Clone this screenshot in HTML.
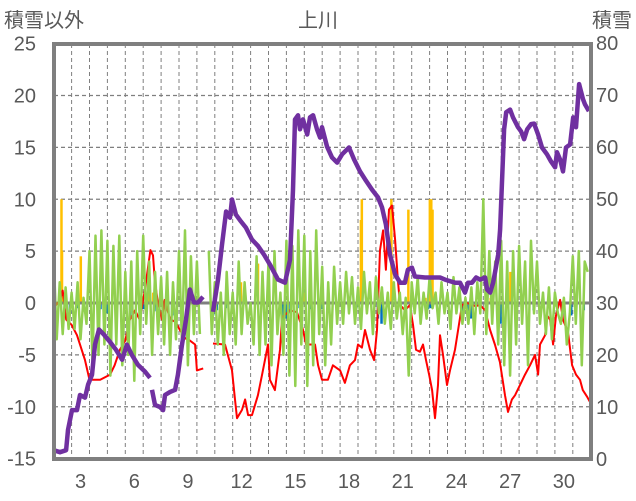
<!DOCTYPE html>
<html><head><meta charset="utf-8"><style>
html,body{margin:0;padding:0;background:#fff;}
svg{display:block;font-family:"Liberation Sans","Noto Sans CJK JP",sans-serif;}
</style></head><body>
<svg id="chart" width="636" height="501" viewBox="0 0 636 501" xmlns="http://www.w3.org/2000/svg">
<text x="318" y="27" font-size="20" fill="#595959" text-anchor="middle">上川</text>
<text x="4" y="27" font-size="20" fill="#595959">積雪以外</text>
<text x="632" y="27" font-size="20" fill="#595959" text-anchor="end">積雪</text>
<g id="grid"></g>
<g id="ticks"></g>
<g id="marks"></g>
<g id="frame"></g>
</svg>
<script>
const leftTicks=[25,20,15,10,5,0,-5,-10,-15];
const rightTicks=[80,70,60,50,40,30,20,10,0];
const dayLabels=[3,6,9,12,15,18,21,24,27,30];
const redDays=[2.0,2.35,2.5,2.7,3.0,3.3,3.75,4.0,4.6,5.15,5.4,5.7,6.0,6.25,6.55,6.8,7.1,7.4,7.55,7.65,7.8,8.05,8.2,8.5,8.8,9.05,9.35,9.6,9.9,10.0,10.35,null,10.9,11.57,11.96,12.13,12.24,12.52,12.69,12.86,13.08,13.41,13.64,13.97,14.08,14.36,14.64,14.76,15.2,15.59,15.93,16.1,16.6,16.77,16.99,17.32,17.6,18.0,18.27,18.55,18.83,19.0,19.22,19.39,19.67,19.9,20.06,20.23,20.4,20.56,20.73,20.9,21.07,21.23,21.35,21.62,21.9,22.07,22.24,22.46,22.63,22.8,22.97,23.14,23.3,23.47,23.58,23.75,23.97,24.14,24.42,24.59,24.81,25.09,25.54,25.82,26.1,26.38,26.65,26.93,27.21,27.38,27.6,27.77,28.05,28.33,28.61,28.89,29.06,29.17,29.45,29.56,29.73,29.9,30.06,30.29,30.45,30.73,30.96,31.18,31.4,31.56,31.79,31.95];
const redTemps=[-0.5,0.3,1.2,-1.6,-2.1,-3.1,-5.5,-7.4,-7.4,-6.9,-6.0,-4.5,-3.6,-1.6,-0.7,-1.6,1.3,5.1,4.6,2.2,0.3,-1.6,0.3,-1.6,-1.8,-2.6,-3.4,-3.6,-4.0,-6.5,-6.3,null,-3.9,-4.0,-6.5,-9.3,-11.1,-10.3,-9.3,-10.8,-10.8,-8.9,-6.9,-4.0,-7.4,-8.4,-4.5,-1.4,-0.7,-0.9,-2.6,-4.0,-4.0,-6.0,-7.4,-7.4,-6.0,-6.5,-7.7,-6.0,-5.5,-4.0,-4.3,-2.6,-4.5,-5.5,-2.6,5.1,7.0,3.2,9.0,9.4,6.1,2.2,-0.2,-0.7,-0.2,-2.1,-4.5,-4.7,-4.0,-5.5,-6.9,-8.4,-11.1,-7.9,-3.1,-5.0,-7.9,-6.5,-4.5,-2.6,-0.2,0,-0.3,-0.2,-0.7,-2.6,-4.0,-5.7,-8.9,-10.5,-9.3,-8.9,-7.9,-6.9,-6.0,-5.0,-6.9,-4.0,-3.1,-1.2,-1.6,-4.0,-1.2,0.3,-1.6,-2.8,-6.0,-6.9,-7.4,-8.4,-9.0,-9.5];
const snowDays=[2.0,2.35,2.69,2.8,3.02,3.3,3.47,3.75,3.92,4.14,4.31,4.53,4.81,5.15,5.48,5.82,6.09,6.37,6.71,7.1,7.38,null,7.49,7.66,7.94,8.11,8.22,8.5,8.78,8.94,9.17,9.39,9.61,9.84,10.06,10.34,null,10.9,11.18,11.4,11.63,11.85,11.96,12.18,12.46,12.74,13.08,13.41,13.75,14.08,14.53,14.92,15.2,15.37,15.48,15.65,15.76,15.93,16.16,16.32,16.49,16.71,16.88,16.99,17.27,17.55,17.83,18.11,18.5,18.78,19.11,19.39,19.78,20.12,20.34,20.56,20.79,21.07,21.35,21.62,21.79,22.01,22.18,22.74,23.58,23.86,24.42,24.7,24.98,25.15,25.37,25.6,25.82,26.1,26.21,26.38,26.55,26.66,26.83,26.94,27.05,27.16,27.28,27.5,27.66,27.94,28.11,28.28,28.45,28.67,28.84,29.06,29.28,29.56,29.79,30.01,30.12,30.29,30.45,30.62,30.85,31.02,31.18,31.35,31.57,31.68,31.9];
const snowDepth=[1.7,1.3,1.7,5.6,9.4,9.4,12.3,11.8,14.3,16.2,22.0,24.9,23.9,22.5,21.0,19.1,22.0,20.0,18.1,16.8,15.6,null,13.3,10.4,10.0,9.4,12.3,12.9,13.3,16.2,22.0,26.8,32.6,30.1,30.1,31.2,null,28.3,34.5,41.2,47.6,46.4,49.9,47.0,45.7,44.5,42.2,41.0,39.3,37.4,34.5,33.9,38.3,51.8,65.3,66.1,63.4,65.3,62.4,65.7,66.1,63.4,61.8,63.8,60.1,58.0,57.0,58.6,59.9,57.6,55.3,53.8,51.8,50.3,48.4,45.1,39.3,35.5,33.9,33.9,36.4,36.8,35.1,34.9,34.9,34.5,33.9,33.9,32.0,33.9,33.9,34.9,34.5,34.9,32.6,32.0,33.9,36.0,39.3,44.1,53.8,63.4,66.7,67.2,65.7,63.8,63.0,61.5,63.4,64.4,64.5,62.4,59.9,58.6,57.2,56.1,59.0,57.6,55.3,59.9,60.5,65.7,63.8,72.1,69.2,68.2,66.9];
const greenVals=[4.5,-3.5,2,-3,1.5,-2.5, 1,-2.5,2,-3.5,0.5,-2, 5,-6,6.5,-5,7,-4, 6,-7,5.5,-4,6.5,-6, 3,-5,4,-7.5,5,-3, 6.5,-2,4,-5,3,-3, 2.5,-4,3,-5,2,-3.5, 5,-4,7,-6,4.5,-3, 4,-3,null,null,5,-3, 2,-4,1,-5,3,-3, 1,-4,4,-3,2,-2, 0,-4,4.5,-5,3,-4, 4,-6,5,-3,1,-5, 6,-7,5.5,-8,7,-4, 6.5,-8,5,-6,7,-3, 3.5,-6,2,-4,3.5,-2, 2,-2,3,-1,2.5,-2, 1.5,-2.5,3,-1,2,-3, 2.5,-1,1.5,-2,1,-2.5, 2,-1.5,1,-3,0.5,-7, 2,-1,2.5,-2,1,-1.5, 2.5,-0.5,1,-2,2,-1, 1,-2.5,2.5,-1,1.5,-2, 0.5,-2,1.5,-3,2,-1, 10,-3,5,-2,4,-4, 6,-6,4,-7,5,-4, 5.5,-2,4,-6,6,-1, 4,-2,1,-3,1.5,-3.5, 1,-1,-2,0.5,-4,-1, 4.5,-2,5,-6,4,3];
const snowfallDays=[2.42,2.45,3.5,7.35,7.55,12.45,13.4,16.0,19.15,19.2,20.85,21.8,22.75,23.0,23.08,23.15,26.4,27.5];
const snowfallVals=[10,5,4.5,1,1,2,3.8,1,8,10,10,9,0.5,10,10,9,0.5,3];
const precipDays=[2.9,3.35,3.65,4.6,5.0,6.25,7.0,7.6,8.2,8.6,9.8,10.9,11.1,11.3,11.6,14.8,14.95,15.1,15.6,16.3,17.0,18.9,20.1,20.3,22.9,23.05,24.8,25.1,25.3,26.8,26.95,28.8,30.4,30.9,31.6];
const precipVals=[-1,-0.5,-0.8,-0.6,-1,-1.5,-0.6,-0.8,-0.5,-1.2,-0.6,-1.2,-0.7,-0.6,-0.5,-3,-1.5,-1,-0.5,-0.6,-0.6,-0.5,-1.5,-2,-0.6,-0.5,-1,-1,-1.5,-1.5,-2,-0.7,-1.5,-1.2,-0.7];

const NS='http://www.w3.org/2000/svg';
const X0=53.7, DAYW=17.9, PL=54, PR=591, PT=44, PB=459;
function xDay(d){return X0+(d-2)*DAYW;}
function yL(v){return 303-v*10.375;}
function yR(v){return 459-v*5.2;}
function mk(tag,parent){const e=document.createElementNS(NS,tag);parent.appendChild(e);return e;}
const grid=document.getElementById('grid'),ticks=document.getElementById('ticks'),marks=document.getElementById('marks'),frame=document.getElementById('frame');

leftTicks.forEach(v=>{
  if(v!==25&&v!==-15&&v!==0){
    const l=mk('line',grid);
    
    
    l.setAttribute('x1',PL);l.setAttribute('x2',PR);l.setAttribute('y1',yL(v));l.setAttribute('y2',yL(v));
    l.setAttribute('stroke','#7f7f7f');l.setAttribute('stroke-width','1.2');l.setAttribute('stroke-dasharray','4,3');
  }
  const t=mk('text',ticks);
  
  
  t.setAttribute('x',36);t.setAttribute('y',yL(v)+7);t.setAttribute('font-size','20');t.setAttribute('fill','#595959');t.setAttribute('text-anchor','end');
  t.textContent=v;
});
rightTicks.forEach(v=>{
  const t=mk('text',ticks);
  
  
  t.setAttribute('x',596);t.setAttribute('y',yR(v)+7);t.setAttribute('font-size','20');t.setAttribute('fill','#595959');
  t.textContent=v;
});
for(let d=3;d<=31;d++){
  const x=xDay(d);
  const l=mk('line',grid);
  
  
  l.setAttribute('x1',x);l.setAttribute('x2',x);l.setAttribute('y1',PT);l.setAttribute('y2',PB);
  l.setAttribute('stroke','#7f7f7f');l.setAttribute('stroke-width','1');l.setAttribute('stroke-dasharray','4,3');
}
dayLabels.forEach(d=>{
  const t=mk('text',ticks);
  
  
  t.setAttribute('x',xDay(d+0.5));t.setAttribute('y',488);t.setAttribute('font-size','20');t.setAttribute('fill','#595959');t.setAttribute('text-anchor','middle');
  t.textContent=d;
});

// bars
snowfallDays.forEach((d,i)=>{
  const r=mk('rect',marks);
  
  
  const v=snowfallVals[i];
  r.setAttribute('x',xDay(d)-1);r.setAttribute('width',2.5);
  r.setAttribute('y',Math.min(yL(v),yL(0)));r.setAttribute('height',Math.abs(yL(v)-yL(0)));
  r.setAttribute('fill','#ffc000');
});
precipDays.forEach((d,i)=>{
  const r=mk('rect',marks);
  
  
  const v=precipVals[i];
  r.setAttribute('x',xDay(d)-1);r.setAttribute('width',2.5);
  r.setAttribute('y',Math.min(yL(v),yL(0)));r.setAttribute('height',Math.abs(yL(v)-yL(0)));
  r.setAttribute('fill','#0070c0');
});
function pathFrom(xs,ys,fx,fy){
  let d='',pen=false;
  for(let i=0;i<ys.length;i++){
    if(xs[i]===null||ys[i]===null){pen=false;continue;}
    d+=(pen?'L':'M')+fx(xs[i]).toFixed(1)+','+fy(ys[i]).toFixed(1);pen=true;
  }
  return d;
}
// zero line
const z=mk('line',marks);


z.setAttribute('x1',PL);z.setAttribute('x2',PR);z.setAttribute('y1',yL(0));z.setAttribute('y2',yL(0));
z.setAttribute('stroke','#7f7f7f');z.setAttribute('stroke-width','3');

const red=mk('path',marks);


red.setAttribute('d',pathFrom(redDays,redTemps,xDay,yL));
red.setAttribute('fill','none');red.setAttribute('stroke','#ff0000');red.setAttribute('stroke-width','2');red.setAttribute('stroke-linejoin','round');

const gDays=greenVals.map((v,i)=>2+i/6);
const green=mk('path',marks);


green.setAttribute('d',pathFrom(gDays,greenVals,xDay,yL));
green.setAttribute('fill','none');green.setAttribute('stroke','#92d050');green.setAttribute('stroke-width','2.5');green.setAttribute('stroke-linejoin','round');

const pur=mk('path',marks);


pur.setAttribute('d',pathFrom(snowDays,snowDepth,xDay,yR));
pur.setAttribute('fill','none');pur.setAttribute('stroke','#7030a0');pur.setAttribute('stroke-width','4.5');pur.setAttribute('stroke-linejoin','round');

const f=mk('rect',frame);


f.setAttribute('x',PL);f.setAttribute('y',PT);f.setAttribute('width',PR-PL);f.setAttribute('height',PB-PT);
f.setAttribute('fill','none');f.setAttribute('stroke','#7f7f7f');f.setAttribute('stroke-width','4');
</script>
</body></html>
